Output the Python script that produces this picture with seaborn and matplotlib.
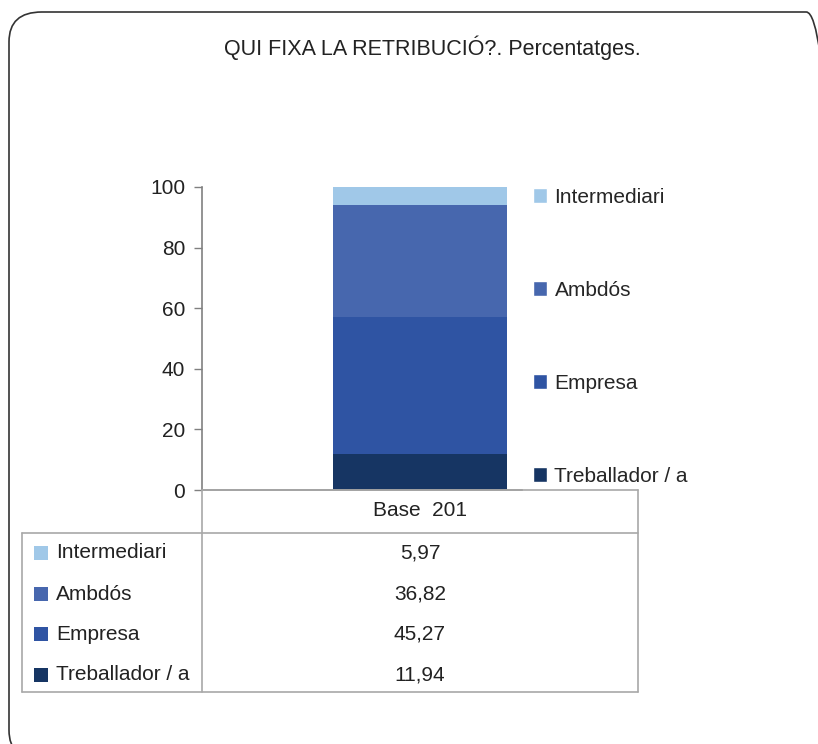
import matplotlib
matplotlib.use("Agg")
import matplotlib.pyplot as plt
from matplotlib.patches import FancyBboxPatch, Rectangle
from matplotlib.lines import Line2D
import numpy as np
import pandas as pd
import seaborn as sns

# ---------------------------------------------------------------------------
# Data (bottom -> top of the stack)
# ---------------------------------------------------------------------------
categories = ["Base  201"]
series_names = ["Treballador / a", "Empresa", "Ambdós", "Intermediari"]
series_values = [11.94, 45.27, 36.82, 5.97]
value_labels = ["11,94", "45,27", "36,82", "5,97"]
colors = ["#163563", "#2F54A3", "#4767AE", "#A0C8E8"]
yticks = [0, 20, 40, 60, 80, 100]
title = "QUI FIXA LA RETRIBUCIÓ?. Percentatges."

sns.set_theme(style="white")
plt.rcParams["font.family"] = ["Liberation Sans", "DejaVu Sans"]

W, H = 818, 744
fig = plt.figure(figsize=(W / 100, H / 100), dpi=100)


def fx(px):
    return px / W


def fy(py):
    return 1 - py / H


# rounded frame
frame = FancyBboxPatch((fx(9), fy(760)), fx(830), fy(12) - fy(760),
                       boxstyle="round,pad=0,rounding_size=0.04",
                       transform=fig.transFigure, facecolor="none",
                       edgecolor="#333333", linewidth=1.2, zorder=-1)
fig.patches.append(frame)

fig.text(fx(432), fy(48), title, ha="center", va="center", fontsize=15.5,
         color="#222222")

# plot area
ax = fig.add_axes([fx(202), fy(490), fx(638) - fx(202), fy(187) - fy(490)])
ax.patch.set_alpha(0)
ax.set_zorder(2)

cum = np.cumsum(series_values)
df = pd.DataFrame({"cat": categories * len(series_names),
                   "name": series_names, "top": cum})
# draw tallest first so each layer sits on top of the previous one
for i in range(len(series_names) - 1, -1, -1):
    sns.barplot(data=df.iloc[[i]], x="cat", y="top", color=colors[i],
                width=0.40, saturation=1, ax=ax, label=series_names[i],
                edgecolor="none")

ax.set_xlim(-0.5, 0.5)
ax.set_ylim(0, 100)
ax.set_yticks(yticks)
ax.set_xticks([])
ax.set_xlabel("")
ax.set_ylabel("")
for s in ["top", "right"]:
    ax.spines[s].set_visible(False)
ax.spines["left"].set_color("#808080")
ax.spines["bottom"].set_color("#808080")
ax.spines["left"].set_linewidth(1.2)
ax.spines["bottom"].set_linewidth(1.2)
ax.spines["bottom"].set_bounds(-0.5, -0.5 + (522 - 202) / 436)
ax.tick_params(axis="y", direction="out", length=6, width=1, color="#808080",
               labelsize=15, labelcolor="#222222", pad=6, left=True)

# legend on the right, top to bottom
handles = [Rectangle((0, 0), 1, 1, facecolor=c) for c in colors[::-1]]
ax.legend(handles, series_names[::-1], loc="upper left",
          bbox_to_anchor=((533 - 202) / 436 - 0.02, 1.025), frameon=False,
          fontsize=15, handlelength=0.7, handleheight=0.7,
          handletextpad=0.35, labelspacing=3.55, borderaxespad=0)

# data table under the plot
line_kw = dict(transform=fig.transFigure, color="#a8a8a8", linewidth=1.2)
fig.lines += [
    Line2D([fx(202), fx(202)], [fy(490), fy(692)], **line_kw),
    Line2D([fx(638), fx(638)], [fy(490), fy(692)], **line_kw),
    Line2D([fx(22), fx(22)], [fy(533), fy(692)], **line_kw),
    Line2D([fx(202), fx(638)], [fy(490), fy(490)], **line_kw),
    Line2D([fx(22), fx(638)], [fy(533), fy(533)], **line_kw),
    Line2D([fx(22), fx(638)], [fy(692), fy(692)], **line_kw),
]
fig.text(fx(420), fy(511), categories[0], ha="center", va="center",
         fontsize=15, color="#222222")

row_y = [553, 594, 634, 675]
for k, i in enumerate(range(len(series_names) - 1, -1, -1)):
    yy = row_y[k]
    fig.patches.append(Rectangle((fx(34), fy(yy + 7)), fx(14), fy(yy - 7) - fy(yy + 7),
                                 transform=fig.transFigure, facecolor=colors[i],
                                 edgecolor="none"))
    fig.text(fx(56), fy(yy), series_names[i], ha="left", va="center",
             fontsize=15, color="#222222")
    fig.text(fx(420), fy(yy), value_labels[i], ha="center", va="center",
             fontsize=15, color="#222222")

fig.savefig("out.png", dpi=100)
